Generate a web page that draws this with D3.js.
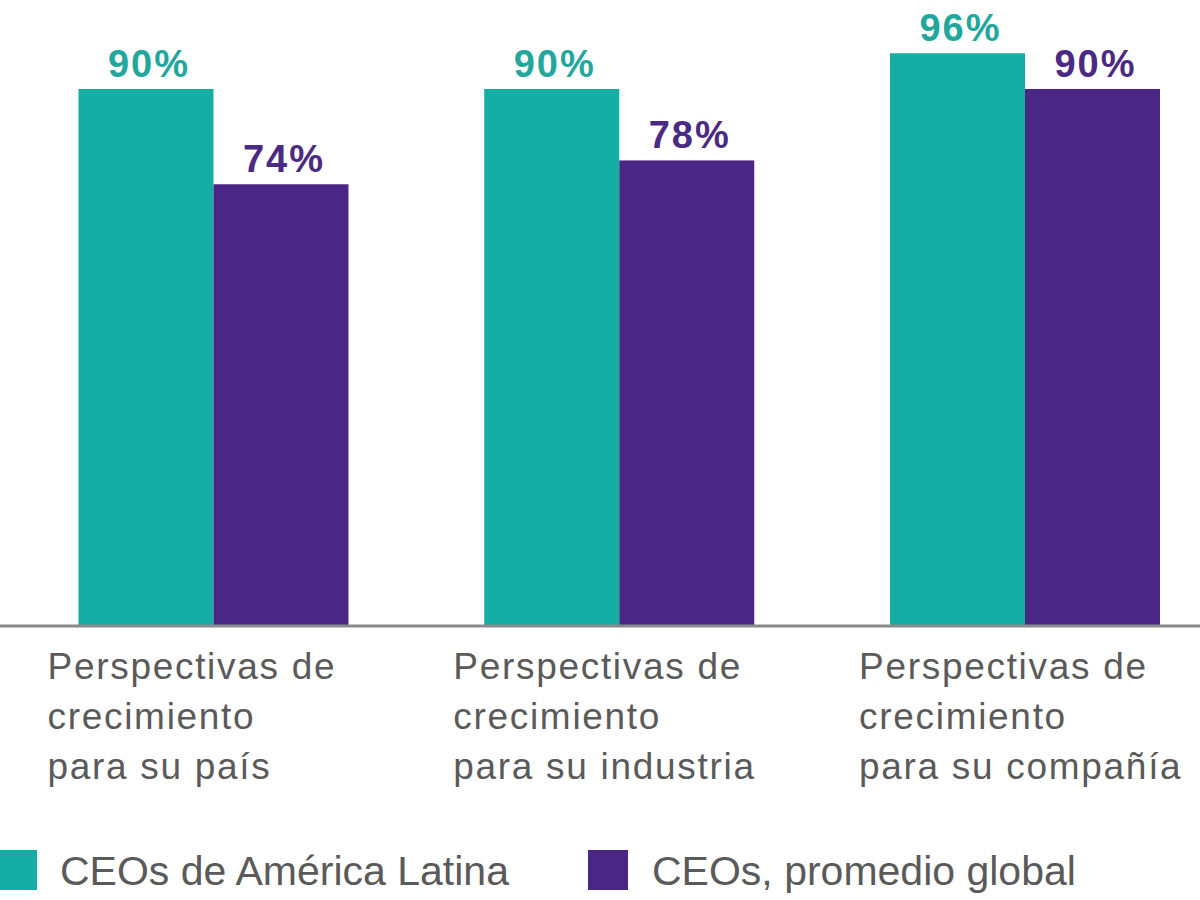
<!DOCTYPE html>
<html>
<head>
<meta charset="utf-8">
<script src="https://cdn.jsdelivr.net/npm/d3@7"></script>
<style>
  html, body { margin: 0; padding: 0; background: #ffffff; }
  svg { display: block; }
</style>
</head>
<body>
<svg id="chart" width="1200" height="900"></svg>
<script>
// ---- data ----
const categories = ["pais", "industria", "compania"];
const categoryLabels = [
  ["Perspectivas de", "crecimiento", "para su país"],
  ["Perspectivas de", "crecimiento", "para su industria"],
  ["Perspectivas de", "crecimiento", "para su compañía"]
];
const seriesNames = ["CEOs de América Latina", "CEOs, promedio global"];
const latamValues = [90, 90, 96];
const globalValues = [74, 78, 90];
const seriesColors = ["#15aea4", "#4a2784"];
const labelColors = ["#23a79d", "#4a2a82"];

// ---- build ----
const svg = d3.select("#chart");
const rows = categories.map((c, i) => ({ cat: c, values: [latamValues[i], globalValues[i]] }));

const x0 = d3.scaleBand().domain(categories).range([78.5, 1160]).paddingInner(0.3346).paddingOuter(0);
const x1 = d3.scaleBand().domain([0, 1]).range([0, x0.bandwidth()]).padding(0);
const y = d3.scaleLinear().domain([0, 100]).range([625, 29.4]);

const groups = svg.selectAll("g.grp").data(rows).join("g")
  .attr("class", "grp")
  .attr("transform", d => `translate(${x0(d.cat)},0)`);

groups.selectAll("rect").data(d => d.values.map((v, k) => ({ v, k }))).join("rect")
  .attr("x", d => x1(d.k))
  .attr("width", x1.bandwidth())
  .attr("y", d => y(d.v))
  .attr("height", d => y(0) - y(d.v))
  .attr("fill", d => seriesColors[d.k]);

groups.selectAll("text.val").data(d => d.values.map((v, k) => ({ v, k }))).join("text")
  .attr("class", "val")
  .attr("x", d => x1(d.k) + x1.bandwidth() / 2 + 3)
  .attr("y", d => y(d.v) - 12)
  .attr("text-anchor", "middle")
  .attr("font-family", "Liberation Sans, Arial, sans-serif")
  .attr("font-weight", "bold")
  .attr("font-size", 38)
  .attr("letter-spacing", 2)
  .attr("fill", d => labelColors[d.k])
  .text(d => d.v + "%");

// baseline
svg.append("line")
  .attr("x1", 0).attr("x2", 1200)
  .attr("y1", y(0) + 1).attr("y2", y(0) + 1)
  .attr("stroke", "#8a8a8a").attr("stroke-width", 3);

// category labels
groups.append("text")
  .attr("font-family", "Liberation Sans, Arial, sans-serif")
  .attr("font-size", 37)
  .attr("letter-spacing", 1.7)
  .attr("fill", "#5a5a5a")
  .selectAll("tspan").data((d, i) => categoryLabels[i]).join("tspan")
  .attr("x", -31)
  .attr("y", (d, j) => 679 + j * 50)
  .text(d => d);

// legend
const legendX = [-3, 588];
const legend = svg.selectAll("g.leg").data(seriesNames).join("g")
  .attr("class", "leg")
  .attr("transform", (d, i) => `translate(${legendX[i]},850)`);
legend.append("rect")
  .attr("width", 40).attr("height", 40)
  .attr("fill", (d, i) => seriesColors[i]);
legend.append("text")
  .attr("x", (d, i) => i === 0 ? 63 : 64)
  .attr("y", 35)
  .attr("font-family", "Liberation Sans, Arial, sans-serif")
  .attr("font-size", 41)
  .attr("fill", "#5a5a5a")
  .text(d => d);
</script>
</body>
</html>
